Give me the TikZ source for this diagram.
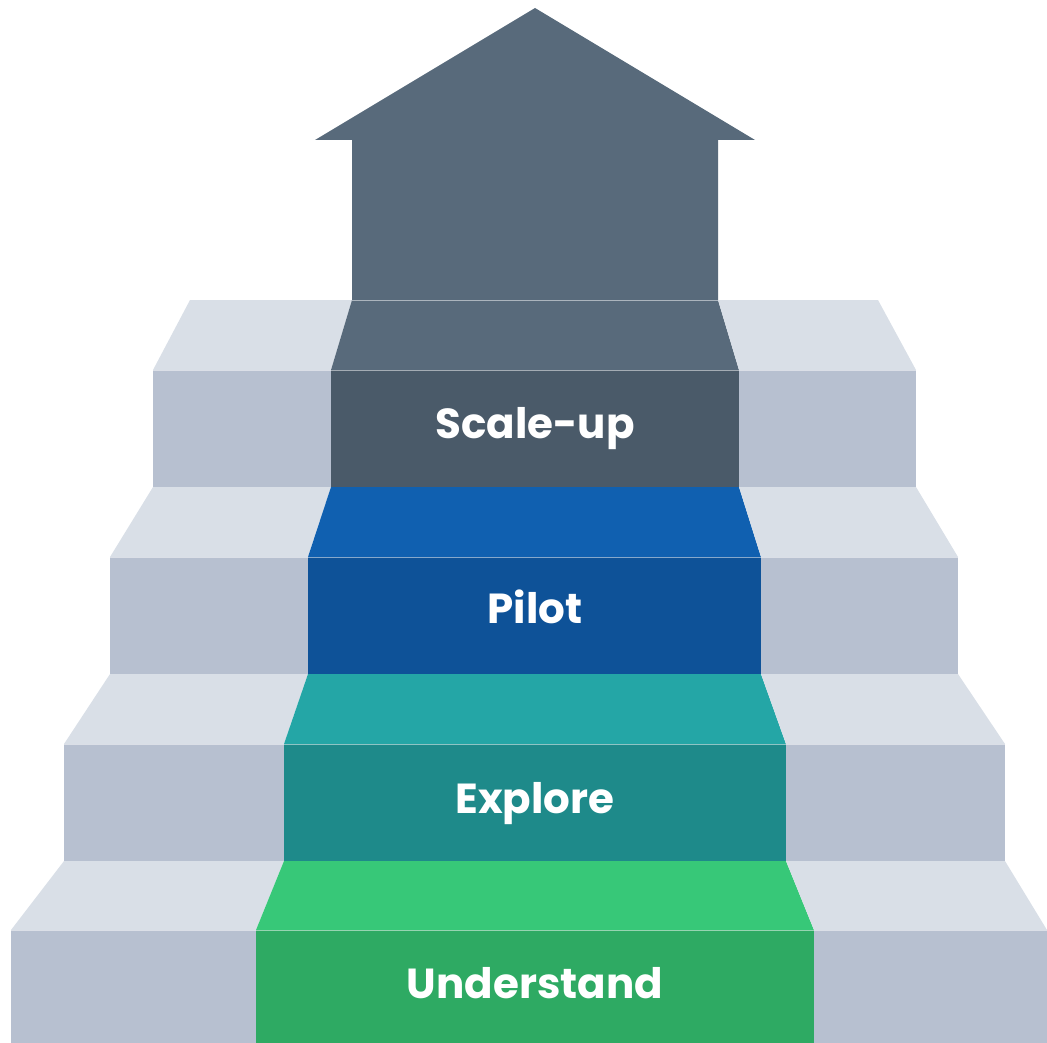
\documentclass[tikz,border=0pt]{standalone}
\usepackage{fontspec}
\setmainfont{Poppins}
\definecolor{gtop}{HTML}{D9DFE7}
\definecolor{gfront}{HTML}{B7C0D0}
\definecolor{arrowc}{HTML}{586A7B}
\definecolor{sfront}{HTML}{4A5A69}
\definecolor{ptop}{HTML}{1060B0}
\definecolor{pfront}{HTML}{0E5298}
\definecolor{etop}{HTML}{24A6A6}
\definecolor{efront}{HTML}{1E8A8A}
\definecolor{utop}{HTML}{37C878}
\definecolor{ufront}{HTML}{2EAA63}
\begin{document}
\begin{tikzpicture}[x=1pt,y=-1pt,
  lbl/.style={text=white,font=\fontsize{42}{42}\selectfont\bfseries,anchor=base,inner sep=0pt},
  sep/.style={draw=white,line width=1pt,draw opacity=0.5}]
\useasboundingbox (0,0) rectangle (1047,1043);
% arrow
\fill[arrowc] (535,8) -- (755,140) -- (718,140) -- (718,300) -- (352,300) -- (352,140) -- (315,140) -- cycle;
% Step 1 (Scale-up)
\fill[gtop] (190,300) -- (352,300) -- (331,370) -- (153,370) -- cycle;
\fill[arrowc] (352,300) -- (718,300) -- (739,370) -- (331,370) -- cycle;
\fill[gtop] (718,300) -- (878,300) -- (916,370) -- (739,370) -- cycle;
\fill[gfront] (153,370) rectangle (331,487);
\fill[sfront] (331,370) rectangle (739,487);
\fill[gfront] (739,370) rectangle (916,487);
% Step 2 (Pilot)
\fill[gtop] (153,487) -- (331,487) -- (308,557) -- (110,557) -- cycle;
\fill[ptop] (331,487) -- (739,487) -- (761,557) -- (308,557) -- cycle;
\fill[gtop] (739,487) -- (916,487) -- (958,557) -- (761,557) -- cycle;
\fill[gfront] (110,557) rectangle (308,674);
\fill[pfront] (308,557) rectangle (761,674);
\fill[gfront] (761,557) rectangle (958,674);
% Step 3 (Explore)
\fill[gtop] (110,674) -- (308,674) -- (284,744) -- (64,744) -- cycle;
\fill[etop] (308,674) -- (761,674) -- (786,744) -- (284,744) -- cycle;
\fill[gtop] (761,674) -- (958,674) -- (1005,744) -- (786,744) -- cycle;
\fill[gfront] (64,744) rectangle (284,861);
\fill[efront] (284,744) rectangle (786,861);
\fill[gfront] (786,744) rectangle (1005,861);
% Step 4 (Understand)
\fill[gtop] (64,861) -- (284,861) -- (256,930) -- (11,930) -- cycle;
\fill[utop] (284,861) -- (786,861) -- (814,930) -- (256,930) -- cycle;
\fill[gtop] (786,861) -- (1005,861) -- (1047,930) -- (814,930) -- cycle;
\fill[gfront] (11,930) rectangle (256,1043);
\fill[ufront] (256,930) rectangle (814,1043);
\fill[gfront] (814,930) rectangle (1047,1043);
% separators
\draw[sep] (352,300) -- (718,300);
\draw[sep] (153,370) -- (916,370);
\draw[sep] (110,557) -- (958,557);
\draw[sep] (64,744) -- (1005,744);
\draw[sep] (11,930) -- (1047,930);
% labels
\node[lbl] (s) at (535,438) {Scale-up};
\node[lbl] (p) at (535,623) {Pilot};
\node[lbl] (e) at (535,813) {Explore};
\node[lbl] (u) at (535,998) {Understand};
\end{tikzpicture}
\end{document}
